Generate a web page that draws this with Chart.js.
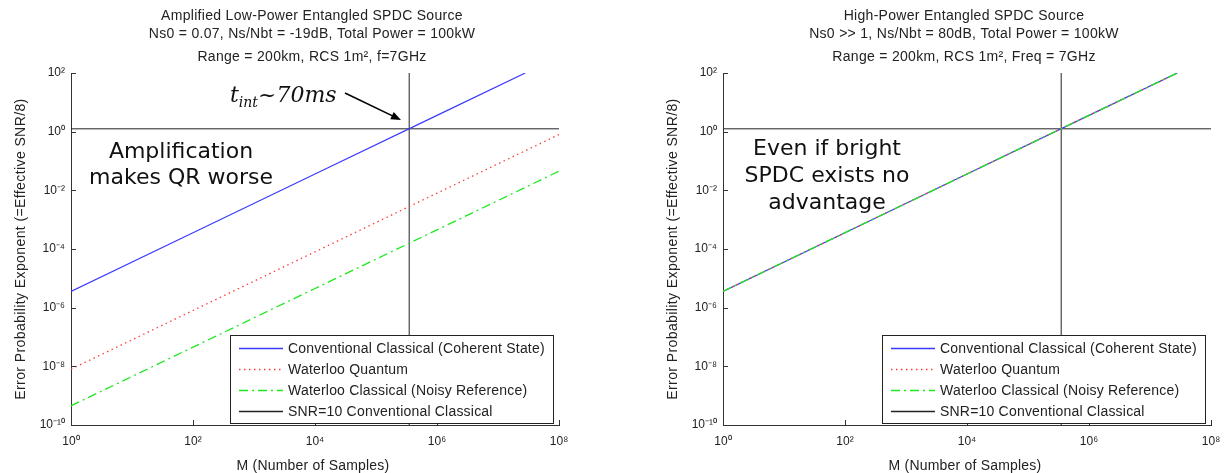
<!DOCTYPE html>
<html><head><meta charset="utf-8">
<script src="https://cdn.jsdelivr.net/npm/chart.js@4.4.0/dist/chart.umd.min.js"></script>
<style>
body{margin:0;background:#fff;width:1224px;height:473px;overflow:hidden;display:flex}
.c{width:612px;height:473px;position:relative}
</style></head>
<body>
<div class="c"><canvas id="a" width="612" height="473"></canvas></div>
<div class="c"><canvas id="b" width="612" height="473"></canvas></div>
<script>
// ---- data ----
const xTicks = [1, 1e2, 1e4, 1e6, 1e8];
const yTicks = [1e-10, 1e-8, 1e-6, 1e-4, 1e-2, 1, 1e2];
const samplesM = [1, 1e2, 1e4, 1e6, 1e8];
const blueM = [1, 1e2, 1e4, 1e6, 2.8e7];
const leftBlue = [3.6e-6, 3.6e-4, 3.6e-2, 3.6, 100];
const leftRed = [8e-9, 8e-7, 8e-5, 8e-3, 0.8];
const leftGreen = [4.5e-10, 4.5e-8, 4.5e-6, 4.5e-4, 4.5e-2];
const rightBlue = [3.6e-6, 3.6e-4, 3.6e-2, 3.6, 100];
const rightRed = [3.6e-6, 3.6e-4, 3.6e-2, 3.6, 100];
const rightGreen = [3.6e-6, 3.6e-4, 3.6e-2, 3.6, 100];
const snrLevel = 1.25;
const snrM = 3.5e5;
const seriesNames = ['Conventional Classical (Coherent State)', 'Waterloo Quantum',
  'Waterloo Classical (Noisy Reference)', 'SNR=10 Conventional Classical'];
const leftTitle = ['Amplified Low-Power Entangled SPDC Source',
  'Ns0 = 0.07, Ns/Nbt = -19dB, Total Power = 100kW', 'Range = 200km, RCS 1m\u00B2, f=7GHz'];
const rightTitle = ['High-Power Entangled SPDC Source',
  'Ns0 >> 1, Ns/Nbt = 80dB, Total Power = 100kW', 'Range = 200km, RCS 1m\u00B2, Freq = 7GHz'];
const xTitle = 'M (Number of Samples)';
const yTitle = 'Error Probability Exponent (=Effective SNR/8)';

const SUP = {'0':'\u2070','1':'\u00B9','2':'\u00B2','3':'\u00B3','4':'\u2074','5':'\u2075','6':'\u2076','7':'\u2077','8':'\u2078','9':'\u2079','-':'\u207B'};
function lab(v){ const e = Math.round(Math.log10(v)); return '10' + String(e).split('').map(c => SUP[c]).join(''); }
const pts = (xs, ys) => xs.map((x, i) => ({x, y: ys[i]}));

const STY = [
  {borderColor:'#3a3aff', borderWidth:1.2, borderDash:[]},
  {borderColor:'#ff3c3c', borderWidth:1.3, borderDash:[1.5,3.5]},
  {borderColor:'#1fe81f', borderWidth:1.3, borderDash:[9,4,2,4]},
  {borderColor:'#222222', borderWidth:1, borderDash:[]}
];
const SANS = '"Liberation Sans", Arial, sans-serif';

const decor = {
  id:'decor',
  afterDraw(chart, args, o){
    const ctx = chart.ctx, a = chart.chartArea, xs = chart.scales.x, ys = chart.scales.y;
    ctx.save();
    ctx.strokeStyle = '#333'; ctx.lineWidth = 1;
    xTicks.forEach(v => { const p = Math.round(xs.getPixelForValue(v)) + 0.5;
      ctx.beginPath(); ctx.moveTo(p, a.bottom); ctx.lineTo(p, a.bottom - 5); ctx.stroke(); });
    yTicks.forEach(v => { const p = Math.round(ys.getPixelForValue(v)) + 0.5;
      ctx.beginPath(); ctx.moveTo(a.left, p); ctx.lineTo(a.left + 5, p); ctx.stroke(); });
    // titles
    ctx.fillStyle = '#222'; ctx.font = '14px ' + SANS; ctx.letterSpacing = '0.3px';
    ctx.textAlign = 'center'; ctx.textBaseline = 'middle';
    const cx = (a.left + a.right) / 2;
    o.title.forEach((t, i) => ctx.fillText(t, cx - 3, [16, 34, 57][i]));
    ctx.letterSpacing = '0.2px';
    ctx.fillText(xTitle, cx - 2, 466);
    ctx.letterSpacing = '0.4px';
    ctx.save(); ctx.translate(o.yTitleX, (a.top + a.bottom) / 2); ctx.rotate(-Math.PI / 2);
    ctx.fillText(yTitle, 0, 0); ctx.restore();
    ctx.letterSpacing = '0px';
    // annotations
    ctx.fillStyle = '#111'; ctx.font = '22px "DejaVu Sans", Verdana, sans-serif';
    ctx.textBaseline = 'alphabetic';
    o.notes.forEach(n => ctx.fillText(n.t, n.x, n.y));
    if (o.tint) {
      ctx.textAlign = 'left';
      let x = 230; const y = 102;
      ctx.font = 'italic 22px "DejaVu Serif", serif'; ctx.fillText('t', x, y); x += ctx.measureText('t').width;
      ctx.font = 'italic 14px "DejaVu Serif", serif'; ctx.fillText('int', x, y + 5); x += ctx.measureText('int').width;
      ctx.font = '22px "DejaVu Serif", serif'; ctx.fillText('~', x, y); x += ctx.measureText('~').width;
      ctx.font = 'italic 22px "DejaVu Serif", serif'; ctx.fillText('70ms', x, y);
      // arrow
      const x1 = 345, y1 = 93, x2 = 401, y2 = 120, ang = Math.atan2(y2 - y1, x2 - x1);
      ctx.strokeStyle = '#000'; ctx.lineWidth = 1.6;
      ctx.beginPath(); ctx.moveTo(x1, y1); ctx.lineTo(x2 - 6 * Math.cos(ang), y2 - 6 * Math.sin(ang)); ctx.stroke();
      ctx.fillStyle = '#000'; ctx.beginPath(); ctx.moveTo(x2, y2);
      ctx.lineTo(x2 - 10 * Math.cos(ang) + 4 * Math.sin(ang), y2 - 10 * Math.sin(ang) - 4 * Math.cos(ang));
      ctx.lineTo(x2 - 10 * Math.cos(ang) - 4 * Math.sin(ang), y2 - 10 * Math.sin(ang) + 4 * Math.cos(ang));
      ctx.closePath(); ctx.fill();
    }
    // legend
    const lx = a.left + 159, ly = 335, lw = 323, lh = 88;
    ctx.fillStyle = '#fff'; ctx.fillRect(lx, ly, lw, lh);
    ctx.strokeStyle = '#222'; ctx.lineWidth = 1; ctx.setLineDash([]);
    ctx.strokeRect(Math.round(lx) + 0.5, ly + 0.5, lw, lh);
    ctx.font = '14px ' + SANS; ctx.letterSpacing = '0.2px'; ctx.textAlign = 'left'; ctx.textBaseline = 'middle';
    seriesNames.forEach((nm, i) => {
      const y = ly + 13 + i * 21, s = STY[i];
      ctx.strokeStyle = s.borderColor; ctx.lineWidth = s.borderWidth + 0.3; ctx.setLineDash(s.borderDash);
      ctx.beginPath(); ctx.moveTo(lx + 9, y + 0.5); ctx.lineTo(lx + 53, y + 0.5); ctx.stroke();
      ctx.setLineDash([]); ctx.fillStyle = '#222'; ctx.fillText(nm, lx + 58, y + 1);
    });
    ctx.letterSpacing = '0px';
    ctx.restore();
  }
};

function makeChart(id, blue, red, green, yW, padR, opts){
  const ds = [
    Object.assign({label:seriesNames[0], data:pts(blueM, blue), order:3}, STY[0]),
    Object.assign({label:seriesNames[1], data:pts(id === 'a' ? samplesM : blueM, red), order:2}, STY[1]),
    Object.assign({label:seriesNames[2], data:pts(id === 'a' ? samplesM : blueM, green), order:1}, STY[2]),
    Object.assign({label:seriesNames[3], data:[{x:1, y:snrLevel}, {x:1e8, y:snrLevel}], order:5}, STY[3]),
    Object.assign({label:'', data:[{x:snrM, y:1e-10}, {x:snrM, y:100}], order:6}, STY[3])
  ];
  ds.forEach(d => { d.pointRadius = 0; d.fill = false; d.tension = 0; });
  const tickFont = {family:SANS, size:12};
  return new Chart(document.getElementById(id), {
    type:'line',
    data:{datasets:ds},
    plugins:[decor],
    options:{
      responsive:false, animation:false, devicePixelRatio:1,
      layout:{padding:{left:0, right:padR, top:73, bottom:0}},
      plugins:{legend:{display:false}, title:{display:false}, tooltip:{enabled:false}, decor:opts},
      scales:{
        x:{type:'logarithmic', min:1, max:1e8,
          afterBuildTicks:s => { s.ticks = xTicks.map(v => ({value:v})); },
          afterFit:s => { s.height = 48; s.paddingLeft = 0; s.paddingRight = 0; },
          ticks:{callback:v => lab(v), font:tickFont, color:'#222', padding:9, maxRotation:0, autoSkip:false},
          grid:{display:true, drawOnChartArea:false, drawTicks:false},
          border:{display:true, color:'#333', width:1}},
        y:{type:'logarithmic', min:1e-10, max:100,
          afterBuildTicks:s => { s.ticks = yTicks.map(v => ({value:v})); },
          afterFit:s => { s.width = yW; s.paddingTop = 0; s.paddingBottom = 0; },
          ticks:{callback:v => lab(v), font:tickFont, color:'#222', padding:6, autoSkip:false},
          grid:{display:true, drawOnChartArea:false, drawTicks:false},
          border:{display:true, color:'#333', width:1}}
      }
    }
  });
}

makeChart('a', leftBlue, leftRed, leftGreen, 71, 53, {
  title:leftTitle, yTitleX:21, tint:true,
  notes:[{t:'Amplification', x:181, y:158}, {t:'makes QR worse', x:181, y:184}]
});
makeChart('b', rightBlue, rightRed, rightGreen, 111, 13, {
  title:rightTitle, yTitleX:61, tint:false,
  notes:[{t:'Even if bright', x:215, y:155}, {t:'SPDC exists no', x:215, y:182}, {t:'advantage', x:215, y:209}]
});
</script>
</body></html>
